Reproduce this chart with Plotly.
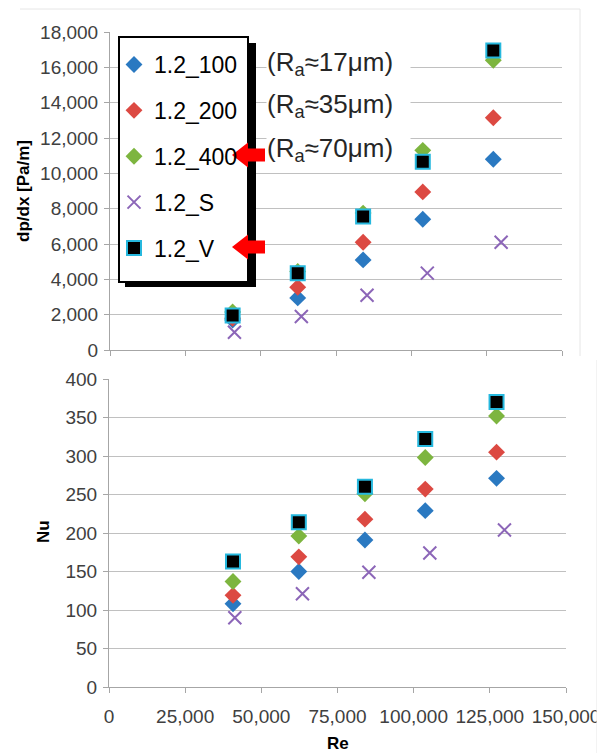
import plotly.graph_objects as go

# the page body adds an 8px margin, so the figure is sized to fill the rest of the window
OFF = 8
W, H = 605 - OFF, 753 - OFF

# ---------------- data ----------------
series_names = ["1.2_100", "1.2_200", "1.2_400", "1.2_S", "1.2_V"]
re_main = [40700, 62300, 84000, 103800, 127200]
re_s = [41300, 63500, 85300, 105300, 129800]

dpdx_100 = [1700, 2950, 5100, 7400, 10800]
dpdx_200 = [1800, 3550, 6100, 8950, 13150]
dpdx_400 = [2150, 4450, 7750, 11300, 16400]
dpdx_S = [1000, 1900, 3100, 4350, 6100]
dpdx_V = [1950, 4350, 7550, 10650, 16950]

nu_100 = [108, 150, 191, 229, 271]
nu_200 = [119, 169, 218, 257, 305]
nu_400 = [137, 196, 251, 298, 352]
nu_S = [90, 121, 149, 174, 204]
nu_V = [163, 214, 260, 322, 370]

ra_labels = ["(R<sub>a</sub>≈17μm)", "(R<sub>a</sub>≈35μm)", "(R<sub>a</sub>≈70μm)"]

x_ticks = [0, 25000, 50000, 75000, 100000, 125000, 150000]
# --------------------------------------

FONT = "Liberation Sans, Arial, sans-serif"
BLUE = "#2A79C1"
RED = "#DC4942"
GREEN = "#7DB53F"
PURPLE = "#8C66B8"
CYAN = "#26B8DE"
GRID = "#C0C0C0"
AXIS = "#A6A6A6"
TICKC = "#404040"


def fx(p):
    return (p - OFF) / W


def fy(p):
    return 1 - (p - OFF) / H


styles = {
    "1.2_100": dict(symbol="diamond", size=13, color=BLUE, line=dict(width=0)),
    "1.2_200": dict(symbol="diamond", size=13, color=RED, line=dict(width=0)),
    "1.2_400": dict(symbol="diamond", size=13, color=GREEN, line=dict(width=0)),
    "1.2_S": dict(symbol="x-thin-open", size=13, color=PURPLE, line=dict(width=2, color=PURPLE)),
    "1.2_V": dict(symbol="square", size=14, color="#000000", line=dict(width=2, color=CYAN)),
}

top_vals = {"1.2_100": dpdx_100, "1.2_200": dpdx_200, "1.2_400": dpdx_400, "1.2_S": dpdx_S, "1.2_V": dpdx_V}
bot_vals = {"1.2_100": nu_100, "1.2_200": nu_200, "1.2_400": nu_400, "1.2_S": nu_S, "1.2_V": nu_V}

fig = go.Figure()
for name in series_names:
    xs = re_s if name == "1.2_S" else re_main
    fig.add_trace(go.Scatter(x=xs, y=top_vals[name], mode="markers", name=name,
                             legendgroup=name, marker=styles[name], xaxis="x", yaxis="y"))
for name in series_names:
    xs = re_s if name == "1.2_S" else re_main
    fig.add_trace(go.Scatter(x=xs, y=bot_vals[name], mode="markers", name=name,
                             legendgroup=name, showlegend=False, marker=styles[name],
                             xaxis="x2", yaxis="y2"))

common_y = dict(showgrid=True, gridcolor=GRID, gridwidth=1, zeroline=False, showline=True,
                linecolor=AXIS, linewidth=1, ticks="outside", ticklen=5, tickcolor=AXIS,
                tickfont=dict(family=FONT, size=19, color=TICKC), ticklabelstandoff=2,
                automargin=False)
common_x = dict(range=[0, 150000], tickvals=x_ticks, showgrid=False, zeroline=False, showline=True,
                linecolor=AXIS, linewidth=1, ticks="outside", ticklen=5, tickcolor=AXIS,
                tickfont=dict(family=FONT, size=19, color=TICKC), automargin=False)

fig.update_layout(
    width=W, height=H,
    margin=dict(l=0, r=0, t=0, b=0, autoexpand=False),
    paper_bgcolor="white", plot_bgcolor="white",
    font=dict(family=FONT, color="#000000"),
    xaxis=dict(domain=[fx(110), fx(562)], anchor="y", showticklabels=False, **common_x),
    xaxis2=dict(domain=[fx(109), fx(566)], anchor="y2", tickformat=",d", ticklabelstandoff=7, **common_x),
    yaxis=dict(domain=[fy(350), fy(32)], anchor="x", range=[0, 18000], dtick=2000, tickformat=",d", **common_y),
    yaxis2=dict(domain=[fy(687), fy(379)], anchor="x2", range=[0, 400], dtick=50, **common_y),
    showlegend=True,
    legend=dict(x=fx(114), y=fy(43), xanchor="left", yanchor="top", bgcolor="rgba(0,0,0,0)",
                borderwidth=0, font=dict(family=FONT, size=23, color="#000000"),
                tracegroupgap=13, itemclick=False),
)

shapes = []
# faint outer chart borders
shapes.append(dict(type="line", xref="paper", yref="paper", x0=fx(20), x1=fx(580), y0=fy(9), y1=fy(9),
                   line=dict(color="#E6E6E6", width=1)))
shapes.append(dict(type="line", xref="paper", yref="paper", x0=fx(580), x1=fx(580), y0=fy(9), y1=fy(356),
                   line=dict(color="#E6E6E6", width=1)))
shapes.append(dict(type="line", xref="paper", yref="paper", x0=fx(597), x1=fx(597), y0=fy(360), y1=fy(753),
                   line=dict(color="#E6E6E6", width=1)))
# legend shadow and box
shapes.append(dict(type="rect", xref="paper", yref="paper", x0=fx(125), x1=fx(256), y0=fy(287), y1=fy(43),
                   fillcolor="#000000", line=dict(width=0), layer="above"))
shapes.append(dict(type="rect", xref="paper", yref="paper", x0=fx(119), x1=fx(248), y0=fy(282), y1=fy(37),
                   fillcolor="#FFFFFF", line=dict(color="#000000", width=2), layer="above"))


def arrow(cy):
    pts = [(232, cy), (248, cy - 12.5), (248, cy - 6.5), (265, cy - 6.5), (265, cy + 6.5),
           (248, cy + 6.5), (248, cy + 12.5)]
    d = "M " + " L ".join(f"{fx(a):.5f},{fy(b):.5f}" for a, b in pts) + " Z"
    return dict(type="path", xref="paper", yref="paper", path=d, fillcolor="#FF0000",
                line=dict(width=0), layer="above")


shapes.append(arrow(155))
shapes.append(arrow(247))
fig.update_layout(shapes=shapes)

annots = []
for lbl, cy in zip(ra_labels, [63, 106, 149]):
    annots.append(dict(text=lbl, xref="paper", yref="paper", x=fx(266), y=fy(cy), xanchor="left",
                       yanchor="middle", showarrow=False, bgcolor="white", borderpad=0, width=143,
                       align="left", font=dict(family=FONT, size=26, color="#262626")))
annots.append(dict(text="<b>dp/dx [Pa/m]</b>", xref="paper", yref="paper", x=fx(23), y=fy(191),
                   textangle=-90, showarrow=False, xanchor="center", yanchor="middle",
                   font=dict(family=FONT, size=17, color="#000000")))
annots.append(dict(text="<b>Nu</b>", xref="paper", yref="paper", x=fx(43), y=fy(532),
                   textangle=-90, showarrow=False, xanchor="center", yanchor="middle",
                   font=dict(family=FONT, size=17, color="#000000")))
annots.append(dict(text="<b>Re</b>", xref="paper", yref="paper", x=fx(338), y=fy(743),
                   showarrow=False, xanchor="center", yanchor="middle",
                   font=dict(family=FONT, size=17, color="#000000")))
fig.update_layout(annotations=annots)

fig.write_html("out.html")
